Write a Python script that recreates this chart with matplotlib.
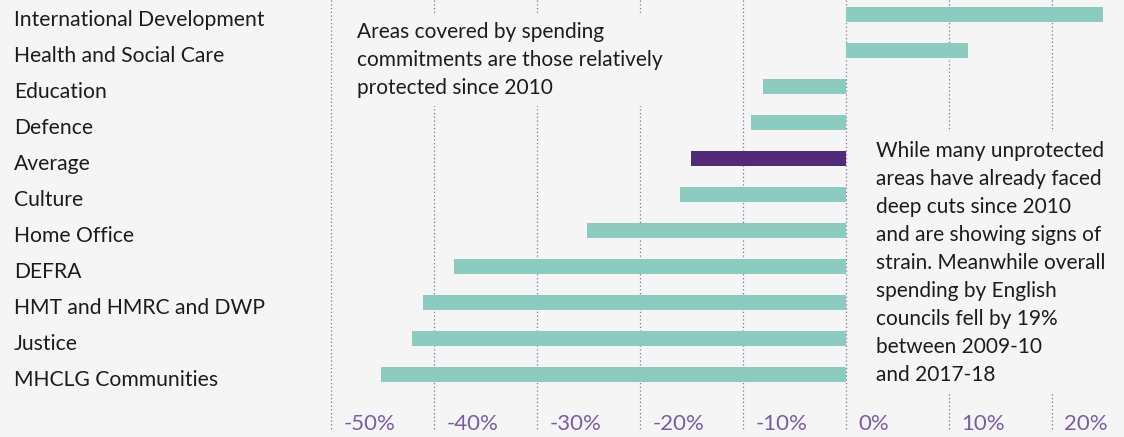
"""Change in departmental spending since 2010, horizontal bar chart."""

import matplotlib

matplotlib.use("Agg")
import matplotlib.pyplot as plt
from matplotlib.transforms import blended_transform_factory

departments = [
    "International Development",
    "Health and Social Care",
    "Education",
    "Defence",
    "Average",
    "Culture",
    "Home Office",
    "DEFRA",
    "HMT and HMRC and DWP",
    "Justice",
    "MHCLG Communities",
]
change_pct = [25.0, 11.8, -8.1, -9.2, -15.1, -16.1, -25.2, -38.1, -41.1, -42.2, -45.2]
tick_values = [-50, -40, -30, -20, -10, 0, 10, 20]

note_left = "Areas covered by spending\ncommitments are those relatively\nprotected since 2010"
note_right = (
    "While many unprotected\nareas have already faced\ndeep cuts since 2010\n"
    "and are showing signs of\nstrain. Meanwhile overall\nspending by English\n"
    "councils fell by 19%\nbetween 2009-10\nand 2017-18"
)

BG = "#f5f5f5"
TEAL = "#8ccbc0"
PURPLE = "#532a7a"
GRID = "#8a6db0"
TICK = "#7a5ca6"
INK = "#1c1c1c"

plt.rcParams["font.family"] = ["Lato", "DejaVu Sans"]

fig = plt.figure(figsize=(11.24, 4.37), dpi=100, facecolor=BG)
ax = fig.add_axes([320 / 1124, 0, 804 / 1124, 1])
ax.set_facecolor(BG)
ax.set_xlim(-51.1, 27.0)
ax.set_ylim(11.736, -0.403)
ax.axis("off")

ax.vlines(tick_values, -0.403, 11.54, colors=GRID, linestyles=(0, (1, 2)),
          linewidth=0.9, zorder=1)

colors = [PURPLE if d == "Average" else TEAL for d in departments]
ax.barh(range(len(departments)), change_pct, height=0.4, color=colors, zorder=2)

for t in tick_values:
    ax.text(t + 1.2, 11.38, f"{t}%", ha="left", va="center", fontsize=16,
            color=TICK, zorder=3)

lab_tr = blended_transform_factory(fig.transFigure, ax.transData)
for i, d in enumerate(departments):
    ax.text(14 / 1124, i + 0.15, d, transform=lab_tr, ha="left", va="center",
            fontsize=15.2, color=INK, clip_on=False)

box = dict(facecolor=BG, edgecolor="none", pad=6)
ax.text(-47.5, 0.2, note_left, ha="left", va="top", fontsize=15, color=INK,
        linespacing=1.5, bbox=box, zorder=4)
ax.text(2.9, 3.5, note_right, ha="left", va="top", fontsize=15, color=INK,
        linespacing=1.5, bbox=box, zorder=4)

fig.savefig("out.png", dpi=100, facecolor=BG)
